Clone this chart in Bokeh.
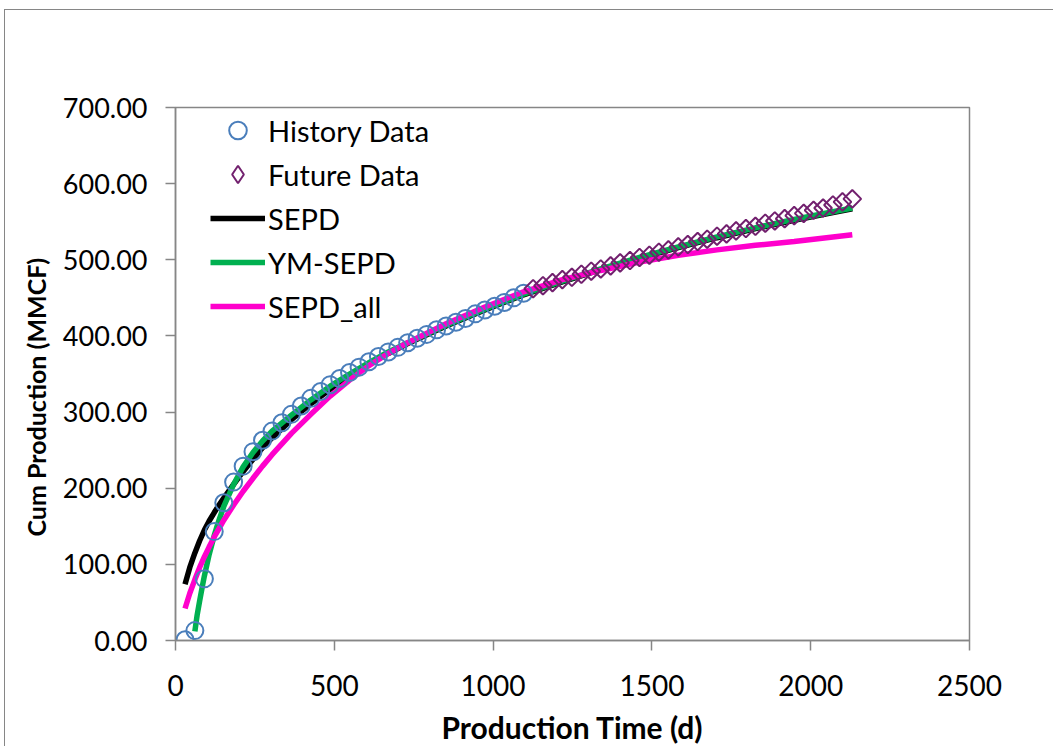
from bokeh.plotting import figure
from bokeh.models import FixedTicker, NumeralTickFormatter, Legend, LegendItem, Title
from bokeh.embed import file_html
from bokeh.resources import INLINE

# ---- data -------------------------------------------------------------
hist_days = [30, 61, 91, 122, 152, 183, 213, 244, 274, 304, 335, 365,
             396, 426, 457, 487, 517, 548, 578, 609, 639, 670, 700, 731,
             761, 791, 822, 852, 883, 913, 944, 974, 1005, 1035, 1065, 1096]
hist_cum = [1, 13, 81, 143, 181, 208, 229, 248, 263, 275, 286, 297,
            308, 318, 327, 336, 344, 352, 359, 366, 373, 379, 385, 391,
            397, 402, 408, 413, 418, 423, 429, 434, 439, 444, 450, 456]

future_days = [1126, 1157, 1187, 1218, 1248, 1278, 1309, 1339, 1370, 1400,
               1431, 1461, 1492, 1522, 1552, 1583, 1613, 1644, 1674, 1705,
               1735, 1765, 1796, 1826, 1857, 1887, 1918, 1948, 1978, 2009,
               2039, 2070, 2100, 2131]
future_cum = [462, 466, 470, 474, 477, 481, 485, 488, 492, 496,
              499, 503, 506, 510, 513, 517, 520, 524, 527, 531,
              534, 538, 541, 544, 548, 551, 554, 558, 561, 565,
              568, 572, 576, 580]

sepd_days = [30, 45, 61, 76, 91, 106, 122, 137, 152, 183, 213, 244, 274,
             304, 365, 426, 487, 548, 609, 670, 731, 852, 974, 1096, 1218,
             1339, 1461, 1583, 1705, 1826, 1948, 2070, 2131]
sepd_cum = [74, 96, 115, 131, 145, 157, 168, 178, 187, 205, 222, 238, 253,
            266, 290, 311, 330, 347, 363, 377, 390, 413, 434, 454, 471,
            487, 502, 516, 529, 541, 552, 562, 567]

ym_days = [61, 68, 76, 84, 91, 106, 122, 137, 152, 183, 213, 244, 274,
           304, 365, 426, 487, 548, 609, 670, 731, 852, 974, 1096, 1218,
           1339, 1461, 1583, 1705, 1826, 1948, 2070, 2131]
ym_cum = [12, 33, 52, 70, 85, 113, 138, 158, 176, 205, 228, 247, 262,
          275, 296, 316, 334, 350, 365, 379, 391, 414, 435, 455, 472,
          488, 503, 517, 530, 542, 553, 563, 568]

all_days = sepd_days
all_cum = [42, 62, 80, 96, 110, 123, 136, 147, 158, 178, 196, 213, 229,
           244, 272, 297, 321, 342, 361, 377, 391, 416, 438, 458, 474,
           486, 497, 506, 513, 519, 524, 530, 533]

x_ticks = [0, 500, 1000, 1500, 2000, 2500]
y_ticks = [0, 100, 200, 300, 400, 500, 600, 700]

FONT = "Lato"
AXIS_GREY = "#868686"
HIST_BLUE = "#4A7EBB"
FUT_PURPLE = "#72206E"

# ---- figure -----------------------------------------------------------
p = figure(width=1049, height=737, output_backend="svg", toolbar_location=None,
           x_range=(0, 2500), y_range=(0, 700),
           min_border_left=170, min_border_right=85,
           min_border_top=97, min_border_bottom=105,
           background_fill_color="white", border_fill_color="white")
p.margin = (9, 0, 0, 4)
p.styles = {"border-left": "1.5px solid #868686", "border-top": "1.5px solid #868686"}

p.outline_line_color = AXIS_GREY
p.outline_line_width = 1.5
p.xgrid.grid_line_color = None
p.ygrid.grid_line_color = None

p.xaxis.ticker = FixedTicker(ticks=x_ticks)
p.yaxis.ticker = FixedTicker(ticks=y_ticks)
p.yaxis.formatter = NumeralTickFormatter(format="0.00")
p.axis.axis_line_color = AXIS_GREY
p.axis.axis_line_width = 1.5
p.axis.major_tick_line_color = AXIS_GREY
p.axis.major_tick_line_width = 1.5
p.axis.major_tick_out = 10
p.axis.major_tick_in = 0
p.axis.minor_tick_line_color = None
p.axis.major_label_text_font = FONT
p.axis.major_label_text_color = "black"
p.xaxis.major_label_text_font_size = "28px"
p.yaxis.major_label_text_font_size = "27px"
p.xaxis.major_label_standoff = 24
p.yaxis.major_label_standoff = 18

p.xaxis.axis_label = "Production Time (d)"
p.xaxis.axis_label_text_font = FONT
p.xaxis.axis_label_text_font_style = "bold"
p.xaxis.axis_label_text_color = "black"
p.xaxis.axis_label_text_font_size = "30px"
p.xaxis.axis_label_standoff = 10

# vertical title beside the y axis, starting a little above the frame bottom
p.add_layout(Title(text="Cum Production (MMCF)", align="left", offset=104,
                   standoff=18, text_font=FONT, text_font_style="bold",
                   text_font_size="25px", text_color="black"), "left")

# ---- model curves -----------------------------------------------------
r_sepd = p.line(sepd_days, sepd_cum, line_color="black", line_width=5.5)
r_ym = p.line(ym_days, ym_cum, line_color="#00B050", line_width=5.5)
r_all = p.line(all_days, all_cum, line_color="#FF00CC", line_width=5.5)

# ---- measured data ----------------------------------------------------
r_hist = p.scatter(hist_days, hist_cum, marker="circle", size=17,
                   fill_color=None, line_color=HIST_BLUE, line_width=2)
r_fut = p.scatter(future_days, future_cum, marker="square", angle=0.785398,
                  size=12.5, fill_color=None, line_color=FUT_PURPLE, line_width=2)
# legend swatch for the future series (legend markers are never rotated)
r_fut_key = p.scatter(future_days[:1], future_cum[:1], marker="diamond", size=18,
                      fill_color=None, line_color=FUT_PURPLE, line_width=2,
                      visible=False)

legend = Legend(items=[
    LegendItem(label="History Data", renderers=[r_hist]),
    LegendItem(label="Future Data", renderers=[r_fut_key]),
    LegendItem(label="SEPD", renderers=[r_sepd]),
    LegendItem(label="YM-SEPD", renderers=[r_ym]),
    LegendItem(label="SEPD_all", renderers=[r_all]),
], location=(35, 312))
legend.border_line_color = None
legend.background_fill_alpha = 0
legend.inactive_fill_alpha = 0
legend.padding = 0
legend.margin = 0
legend.spacing = 0
legend.glyph_width = 55
legend.glyph_height = 44
legend.label_height = 44
legend.label_standoff = 3
legend.label_text_font = FONT
legend.label_text_font_size = "29px"
legend.label_text_color = "black"
p.add_layout(legend)

open("out.html", "w").write(file_html(p, INLINE))
